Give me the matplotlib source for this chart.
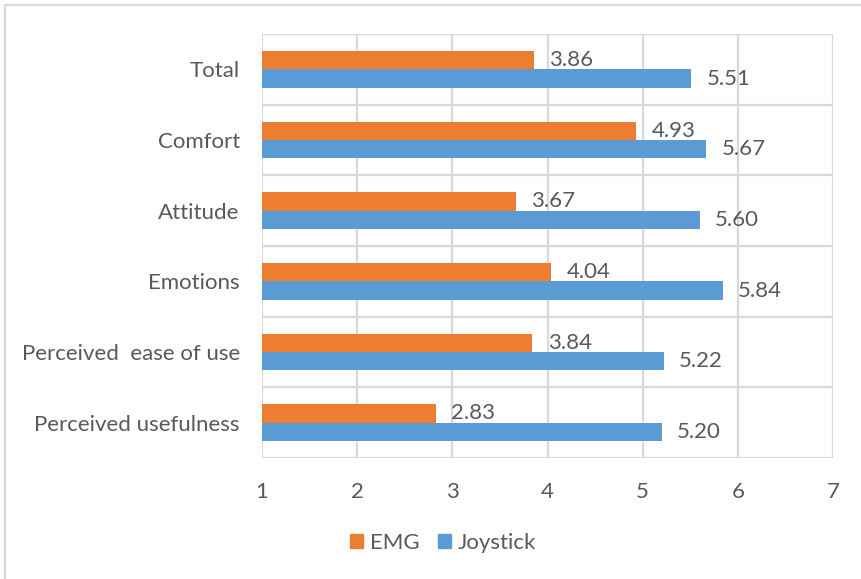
import matplotlib.pyplot as plt
import matplotlib.patches as mpatches
import numpy as np

# datos de la encuesta (escala 1-7)
categorias = ['Perceived usefulness', 'Perceived  ease of use', 'Emotions',
              'Attitude', 'Comfort', 'Total']
emg = [2.83, 3.84, 4.04, 3.67, 4.93, 3.86]
joystick = [5.20, 5.22, 5.84, 5.60, 5.67, 5.51]
xticks = [1, 2, 3, 4, 5, 6, 7]

c_emg = '#ED7D31'
c_joy = '#5B9BD5'
gris = '#595959'
linea = '#D9D9D9'
fs = 16

plt.rcParams['font.family'] = ['Lato', 'DejaVu Sans']

fig = plt.figure(figsize=(8.61, 5.79), dpi=100)
ax = fig.add_axes([262/861, 1 - 458/579, (833 - 262)/861, (458 - 34)/579])

y = np.arange(len(categorias))
h = 0.26
ax.barh(y + h/2, emg, height=h, color=c_emg, zorder=3)
ax.barh(y - h/2, joystick, height=h, color=c_joy, zorder=3)

# etiquetas de valor al final de cada barra
for yi, v in zip(y + h/2, emg):
    ax.annotate(f'{v:.2f}', xy=(v, yi), xytext=(11, 0), textcoords='offset points',
                va='center', ha='left', fontsize=fs, color=gris)
for yi, v in zip(y - h/2, joystick):
    ax.annotate(f'{v:.2f}', xy=(v, yi), xytext=(11, 0), textcoords='offset points',
                va='center', ha='left', fontsize=fs, color=gris)

ax.set_xlim(1, 7)
ax.set_ylim(-0.5, len(categorias) - 0.5)
ax.set_xticks(xticks)
ax.set_xticklabels([str(t) for t in xticks])
ax.set_yticks(y)
ax.set_yticklabels(categorias)
ax.tick_params(axis='x', length=0, pad=17, labelsize=fs, labelcolor=gris)
ax.tick_params(axis='y', length=0, pad=16, labelsize=fs, labelcolor=gris)

# rejilla vertical y separadores entre categorías
for t in xticks:
    ax.axvline(t, color=linea, lw=1.6, zorder=1)
for b in np.arange(-0.5, len(categorias), 1.0):
    ax.axhline(b, color=linea, lw=1.6, zorder=1)
for s in ax.spines.values():
    s.set_visible(False)

handles = [mpatches.Patch(color=c_emg, label='EMG'),
           mpatches.Patch(color=c_joy, label='Joystick')]
fig.legend(handles=handles, loc='center', bbox_to_anchor=(443/861, 1 - 543/579),
           ncol=2, frameon=False, fontsize=fs, labelcolor=gris,
           handlelength=0.6, handleheight=0.6, handletextpad=0.3, columnspacing=0.8)

# marco exterior del gráfico
marco = mpatches.Rectangle((5/861, -0.1), 1.2, 1 - 5/579 + 0.1, transform=fig.transFigure,
                           fill=False, edgecolor=linea, lw=1.6, clip_on=False)
fig.add_artist(marco)

fig.savefig('out.png', dpi=100)
